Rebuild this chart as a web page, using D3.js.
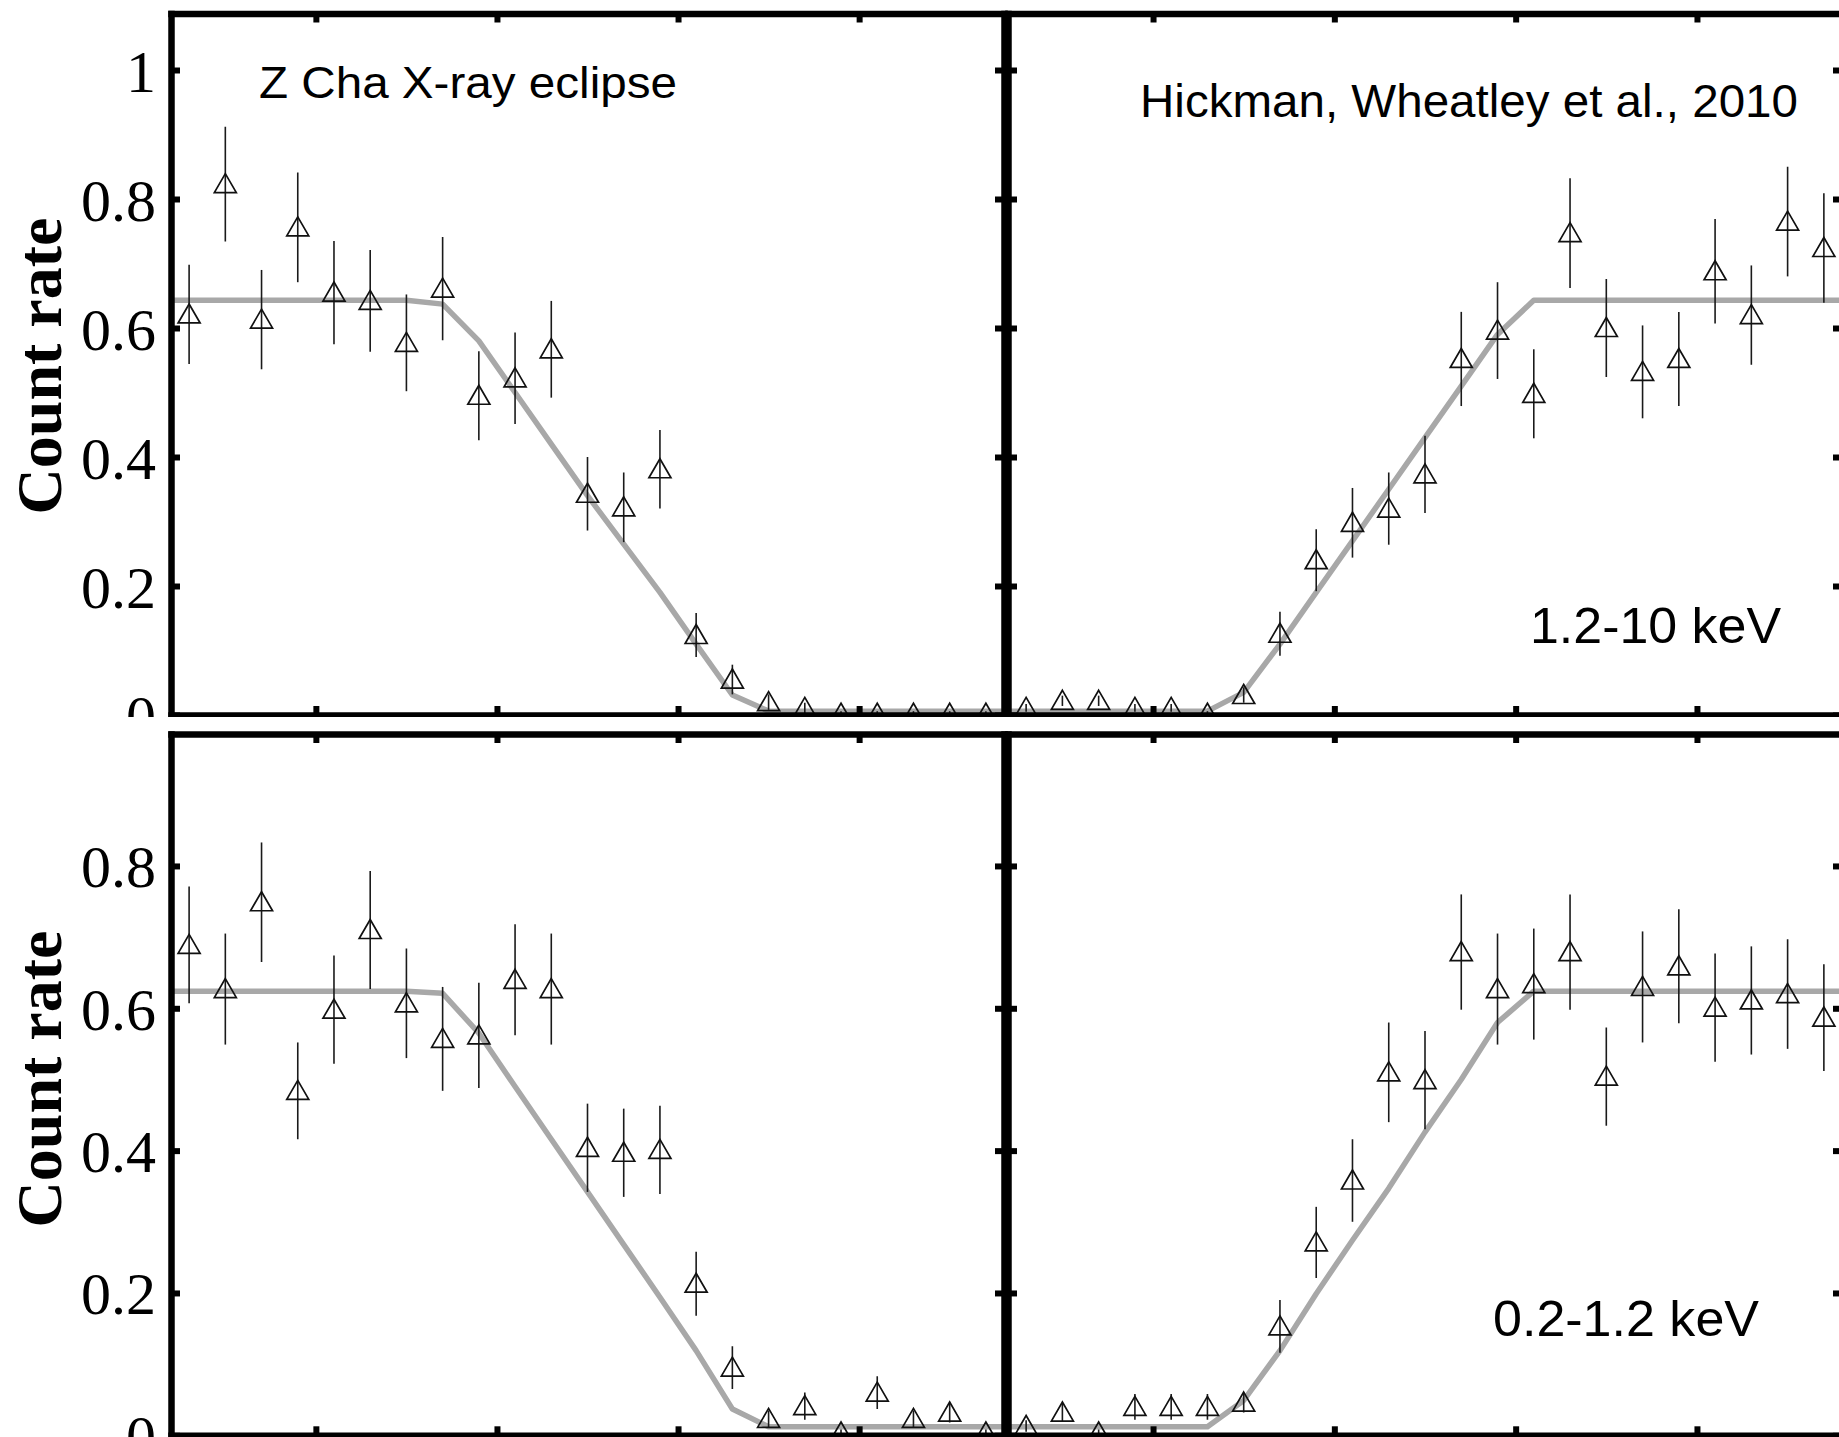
<!DOCTYPE html>
<html>
<head>
<meta charset="utf-8">
<script src="https://cdn.jsdelivr.net/npm/d3@7"></script>
<style>
  html, body { margin: 0; padding: 0; background: #fff; }
  svg { display: block; }
</style>
</head>
<body>
<svg id="chart" width="1839" height="1437"></svg>
<script>
// ---- data: Z Cha X-ray eclipse, count rate per phase bin ----
const binIndex = d3.range(23);          // 23 phase bins per window
const xTickBins = [4, 9, 14, 19];       // bin edges carrying x ticks
const yTicksHard = [0, 0.2, 0.4, 0.6, 0.8, 1];
const yTicksSoft = [0, 0.2, 0.4, 0.6, 0.8];

// 1.2-10 keV, ingress window
const hardIngressRate = [0.621, 0.823, 0.613, 0.756, 0.655, 0.642, 0.577, 0.661, 0.495, 0.522, 0.567, 0.343,
                         0.322, 0.381, 0.124, 0.055, 0.020, 0.011, 0.002, 0.002, 0.002, 0.002, 0.002];
const hardIngressErr  = [0.077, 0.089, 0.077, 0.085, 0.080, 0.079, 0.075, 0.080, 0.069, 0.071, 0.075, 0.057,
                         0.054, 0.061, 0.034, 0.023, 0.012, 0.008, 0.004, 0.004, 0.004, 0.004, 0.004];
const hardIngressModel = [0.643, 0.643, 0.643, 0.643, 0.643, 0.643, 0.643, 0.637, 0.580, 0.500, 0.420, 0.340,
                          0.265, 0.190, 0.110, 0.031, 0.006, 0.006, 0.006, 0.006, 0.006, 0.006, 0.006];

// 1.2-10 keV, egress window
const hardEgressRate = [0.011, 0.022, 0.022, 0.011, 0.011, 0.002, 0.031, 0.126, 0.240, 0.298, 0.320, 0.373,
                        0.552, 0.596, 0.498, 0.747, 0.600, 0.532, 0.552, 0.688, 0.620, 0.765, 0.724];
const hardEgressErr  = [0.006, 0.008, 0.008, 0.006, 0.006, 0.004, 0.012, 0.034, 0.048, 0.054, 0.056, 0.060,
                        0.073, 0.075, 0.069, 0.085, 0.076, 0.072, 0.073, 0.081, 0.077, 0.085, 0.085];
const hardEgressModel = [0.006, 0.006, 0.006, 0.006, 0.006, 0.006, 0.035, 0.110, 0.190, 0.270, 0.350, 0.430,
                         0.510, 0.590, 0.643, 0.643, 0.643, 0.643, 0.643, 0.643, 0.643, 0.643, 0.643];

// 0.2-1.2 keV, ingress window
const softIngressRate = [0.689, 0.627, 0.749, 0.484, 0.598, 0.710, 0.607, 0.557, 0.562, 0.640, 0.627, 0.404,
                         0.397, 0.401, 0.213, 0.095, 0.023, 0.041, 0.004, 0.060, 0.023, 0.032, 0.004];
const softIngressErr  = [0.082, 0.078, 0.084, 0.068, 0.076, 0.083, 0.077, 0.073, 0.074, 0.078, 0.078, 0.062,
                         0.062, 0.062, 0.045, 0.030, 0.012, 0.019, 0.004, 0.023, 0.012, 0.014, 0.004];
const softIngressModel = [0.624, 0.624, 0.624, 0.624, 0.624, 0.624, 0.624, 0.621, 0.565, 0.490, 0.416, 0.342,
                          0.268, 0.194, 0.119, 0.037, 0.012, 0.012, 0.012, 0.012, 0.012, 0.012, 0.012];

// 0.2-1.2 keV, egress window
const softEgressRate = [0.013, 0.032, 0.004, 0.040, 0.040, 0.040, 0.046, 0.153, 0.271, 0.358, 0.510, 0.499,
                        0.679, 0.627, 0.634, 0.679, 0.504, 0.630, 0.659, 0.601, 0.611, 0.620, 0.587];
const softEgressErr  = [0.008, 0.012, 0.004, 0.018, 0.018, 0.018, 0.014, 0.037, 0.050, 0.058, 0.070, 0.069,
                        0.081, 0.078, 0.078, 0.081, 0.069, 0.078, 0.080, 0.076, 0.076, 0.077, 0.075];
const softEgressModel = [0.012, 0.012, 0.012, 0.012, 0.012, 0.012, 0.049, 0.119, 0.199, 0.274, 0.347, 0.426,
                         0.500, 0.580, 0.624, 0.624, 0.624, 0.624, 0.624, 0.624, 0.624, 0.624, 0.624];

// ---- layout ----
const svg = d3.select('#chart');
const columns = [
  { x0: 171, x1: 1004 },   // ingress window
  { x0: 1008, x1: 1842 }   // egress window
];
const rows = [
  { key: 'hard', yTop: 13.5, yZero: 715, yMax: 1.0876, ticks: yTicksHard, clip: [0, 717], labelY: 366,
    series: [
      { rate: hardIngressRate, err: hardIngressErr, model: hardIngressModel },
      { rate: hardEgressRate, err: hardEgressErr, model: hardEgressModel }
    ] },
  { key: 'soft', yTop: 734, yZero: 1435.3, yMax: 0.9854, ticks: yTicksSoft, clip: [717, 1437], labelY: 1079,
    series: [
      { rate: softIngressRate, err: softIngressErr, model: softIngressModel },
      { rate: softEgressRate, err: softEgressErr, model: softEgressModel }
    ] }
];

const defs = svg.append('defs');
const AXIS_W = 6.5, TICK_W = 6, TICK_LEN = 9;

function styleAxis(sel) {
  sel.select('.domain').attr('stroke', '#000').attr('stroke-width', AXIS_W).attr('stroke-linecap', 'square');
  sel.selectAll('.tick line').attr('stroke', '#000').attr('stroke-width', TICK_W);
}

function triangle(cx, cy) {
  return `M${cx},${cy - 10.5}L${cx + 11},${cy + 8.5}L${cx - 11},${cy + 8.5}Z`;
}

rows.forEach((row, r) => {
  const y = d3.scaleLinear().domain([0, row.yMax]).range([row.yZero, row.yTop]);

  // region clip (tick labels are cut at the gap between the two rows)
  defs.append('clipPath').attr('id', `region-${row.key}`)
    .append('rect').attr('x', 0).attr('y', row.clip[0]).attr('width', 1839).attr('height', row.clip[1] - row.clip[0]);

  const rowG = svg.append('g').attr('clip-path', `url(#region-${row.key})`);

  columns.forEach((col, c) => {
    const x = d3.scaleLinear().domain([0, 23]).range([col.x0, col.x1]);
    const s = row.series[c];

    defs.append('clipPath').attr('id', `plot-${row.key}-${c}`)
      .append('rect').attr('x', col.x0).attr('y', row.yTop)
      .attr('width', col.x1 - col.x0).attr('height', row.yZero - row.yTop);

    const plot = rowG.append('g').attr('clip-path', `url(#plot-${row.key}-${c})`);

    // eclipse model
    const modelPts = [[0, s.model[0]], ...binIndex.map(i => [i + 0.5, s.model[i]]), [23, s.model[22]]];
    plot.append('path')
      .attr('d', d3.line().x(d => x(d[0])).y(d => y(d[1]))(modelPts))
      .attr('fill', 'none').attr('stroke', '#a8a8a8').attr('stroke-width', 5.5)
      .attr('stroke-linejoin', 'round');

    // error bars
    plot.selectAll('line.err').data(binIndex).join('line')
      .attr('class', 'err')
      .attr('x1', i => x(i + 0.5)).attr('x2', i => x(i + 0.5))
      .attr('y1', i => y(s.rate[i] - s.err[i])).attr('y2', i => y(s.rate[i] + s.err[i]))
      .attr('stroke', '#1a1a1a').attr('stroke-width', 1.6);

    // open triangles
    plot.selectAll('path.pt').data(binIndex).join('path')
      .attr('class', 'pt')
      .attr('d', i => triangle(x(i + 0.5), y(s.rate[i])))
      .attr('fill', 'none').attr('stroke', '#111').attr('stroke-width', 1.7)
      .attr('stroke-linejoin', 'miter');

    // frame with inward ticks
    const left = rowG.append('g').attr('transform', `translate(${col.x0},0)`)
      .call(d3.axisLeft(y).tickValues(row.ticks).tickSizeInner(-TICK_LEN).tickSizeOuter(0)
        .tickPadding(15)
        .tickFormat(c === 0 ? (d => d === 0 ? '0' : d === 1 ? '1' : d3.format('.1f')(d)) : ''));
    styleAxis(left);
    left.selectAll('.tick text')
      .attr('font-family', '"Liberation Serif", "Times New Roman", serif')
      .attr('font-size', 60).attr('fill', '#000').attr('dy', '0.35em');

    const right = rowG.append('g').attr('transform', `translate(${col.x1},0)`)
      .call(d3.axisRight(y).tickValues(row.ticks).tickSizeInner(-TICK_LEN).tickSizeOuter(0).tickFormat(''));
    styleAxis(right);

    const top = rowG.append('g').attr('transform', `translate(0,${row.yTop})`)
      .call(d3.axisTop(x).tickValues(xTickBins).tickSizeInner(-TICK_LEN).tickSizeOuter(0).tickFormat(''));
    styleAxis(top);

    const bottom = rowG.append('g').attr('transform', `translate(0,${row.yZero})`)
      .call(d3.axisBottom(x).tickValues(xTickBins).tickSizeInner(-TICK_LEN).tickSizeOuter(0).tickFormat(''));
    styleAxis(bottom);
  });

  // y-axis title
  svg.append('text')
    .attr('transform', `translate(61,${row.labelY}) rotate(-90)`)
    .attr('text-anchor', 'middle')
    .attr('font-family', '"Liberation Serif", "Times New Roman", serif')
    .attr('font-weight', 'bold').attr('font-size', 64).attr('fill', '#000')
    .text('Count rate');
});

// annotations
const sans = '"Liberation Sans", Arial, Helvetica, sans-serif';
const notes = [
  { text: 'Z Cha X-ray eclipse', x: 259, y: 97.5, size: 45, len: 418 },
  { text: 'Hickman, Wheatley et al., 2010', x: 1140, y: 117, size: 46, len: 658 },
  { text: '1.2-10 keV', x: 1530, y: 643, size: 50, len: 251 },
  { text: '0.2-1.2 keV', x: 1493, y: 1336, size: 50, len: 266 }
];
svg.selectAll('text.note').data(notes).join('text')
  .attr('class', 'note')
  .attr('x', d => d.x).attr('y', d => d.y)
  .attr('font-family', sans).attr('font-size', d => d.size).attr('fill', '#000')
  .attr('textLength', d => d.len).attr('lengthAdjust', 'spacingAndGlyphs')
  .text(d => d.text);
</script>
</body>
</html>
